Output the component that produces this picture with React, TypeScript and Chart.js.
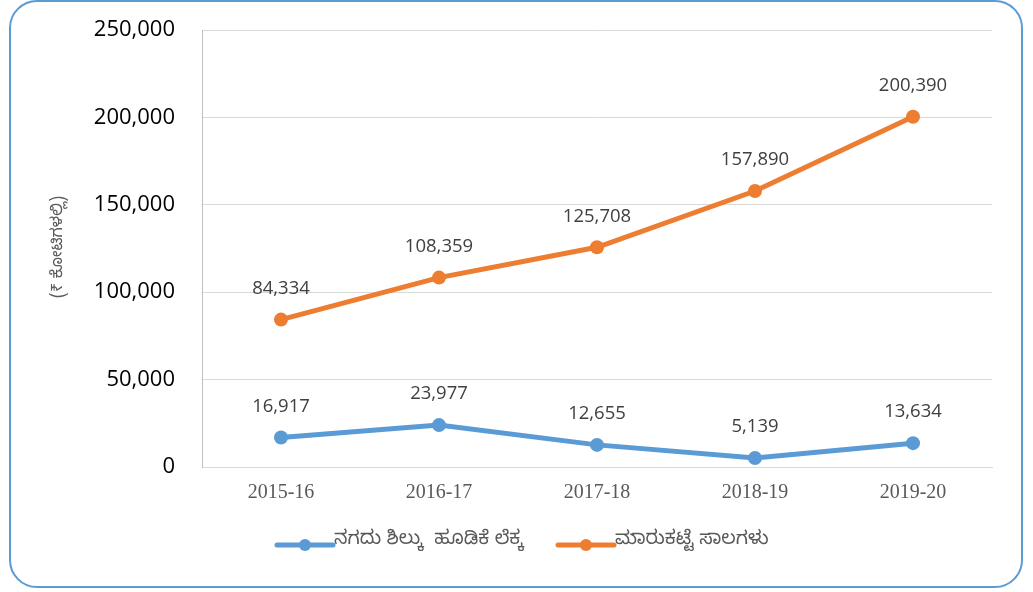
import React, { useEffect, useRef } from "react";
import { Chart, registerables } from "chart.js";

Chart.register(...registerables);

const categories = ["2015-16", "2016-17", "2017-18", "2018-19", "2019-20"];
const cashBalance = [16917, 23977, 12655, 5139, 13634];
const marketLoans = [84334, 108359, 125708, 157890, 200390];
const seriesNames = ["ನಗದು ಶಿಲ್ಕು  ಹೂಡಿಕೆ ಲೆಕ್ಕ", "ಮಾರುಕಟ್ಟೆ ಸಾಲಗಳು"];
const yTitle = "(₹ ಕೋಟಿಗಳಲ್ಲಿ)";
const yMax = 250000;
const yStep = 50000;

const BLUE = "#5b9bd5";
const ORANGE = "#ed7d31";
const KFONT = "'Noto Sans Kannada', 'Noto Sans', sans-serif";

const fmt = (v: number) => v.toLocaleString("en-US");

const customPlugin = {
  id: "custom",
  afterDatasetsDraw(chart: any) {
    const ctx = chart.ctx;
    ctx.save();
    // data labels
    ctx.font = "18.5px 'Open Sans', Lato, sans-serif";
    ctx.fillStyle = "#404040";
    ctx.textAlign = "center";
    ctx.textBaseline = "middle";
    chart.data.datasets.forEach((ds: any, i: number) => {
      const meta = chart.getDatasetMeta(i);
      meta.data.forEach((pt: any, j: number) => {
        ctx.fillText(fmt(ds.data[j]), pt.x, pt.y - 31);
      });
    });
    // y title
    ctx.save();
    ctx.translate(60, 247);
    ctx.rotate(-Math.PI / 2);
    ctx.font = "16px " + KFONT;
    ctx.fillStyle = "#595959";
    ctx.fillText(yTitle, 0, 0);
    ctx.restore();
    // legend
    const items = [
      { x: 277, color: BLUE, text: seriesNames[0] },
      { x: 558, color: ORANGE, text: seriesNames[1] },
    ];
    const ly = 545;
    items.forEach((it) => {
      ctx.strokeStyle = it.color;
      ctx.lineWidth = 5;
      ctx.lineCap = "round";
      ctx.beginPath();
      ctx.moveTo(it.x, ly);
      ctx.lineTo(it.x + 56, ly);
      ctx.stroke();
      ctx.fillStyle = it.color;
      ctx.beginPath();
      ctx.arc(it.x + 28, ly, 6, 0, Math.PI * 2);
      ctx.fill();
      ctx.fillStyle = "#595959";
      ctx.font = "19px " + KFONT;
      ctx.textAlign = "left";
      ctx.fillText(it.text, it.x + 57, ly - 3);
    });
    ctx.restore();
  },
};

export default function App() {
  const ref = useRef<HTMLCanvasElement>(null);
  useEffect(() => {
    const chart = new Chart(ref.current!, {
      type: "line",
      data: {
        labels: categories,
        datasets: [
          {
            label: seriesNames[0],
            data: cashBalance,
            borderColor: BLUE,
            backgroundColor: BLUE,
            borderWidth: 5,
            pointRadius: 7,
            pointHoverRadius: 7,
            pointBorderWidth: 0,
          },
          {
            label: seriesNames[1],
            data: marketLoans,
            borderColor: ORANGE,
            backgroundColor: ORANGE,
            borderWidth: 5,
            pointRadius: 7,
            pointHoverRadius: 7,
            pointBorderWidth: 0,
          },
        ],
      },
      options: {
        animation: false,
        responsive: true,
        maintainAspectRatio: false,
        layout: { padding: { left: 0, right: 41, top: 30, bottom: 0 } },
        plugins: { legend: { display: false }, tooltip: { enabled: false } },
        scales: {
          x: {
            offset: true,
            afterFit: (s: any) => {
              s.height = 125;
              s.paddingLeft = 0;
              s.paddingRight = 0;
            },
            grid: { display: false, drawTicks: false },
            border: { display: true, color: "#d9d9d9", width: 1 },
            ticks: {
              padding: 14,
              color: "#595959",
              font: { family: "'Liberation Serif', 'Times New Roman', serif", size: 20 },
            },
          },
          y: {
            min: 0,
            max: yMax,
            afterFit: (s: any) => {
              s.width = 202;
              s.paddingTop = 10;
              s.paddingBottom = 0;
            },
            grid: { color: "#d9d9d9", drawTicks: false },
            border: { display: true, color: "#bfbfbf", width: 1 },
            ticks: {
              stepSize: yStep,
              padding: 27,
              color: "#000000",
              font: { family: "'Open Sans', Lato, sans-serif", size: 22 },
              callback: (v: any) => fmt(Number(v)),
            },
          },
        },
      },
      plugins: [customPlugin],
    });
    return () => chart.destroy();
  }, []);

  return (
    <div style={{ position: "fixed", left: 0, top: 0, width: 1033, height: 592, background: "#fff" }}>
      <div
        style={{
          position: "absolute",
          left: 9,
          top: 0,
          width: 1010,
          height: 584,
          border: "2px solid #5b9bd5",
          borderRadius: 28,
          boxSizing: "content-box",
        }}
      />
      <div style={{ position: "absolute", left: 0, top: 0, width: 1033, height: 592 }}>
        <canvas ref={ref} />
      </div>
    </div>
  );
}
